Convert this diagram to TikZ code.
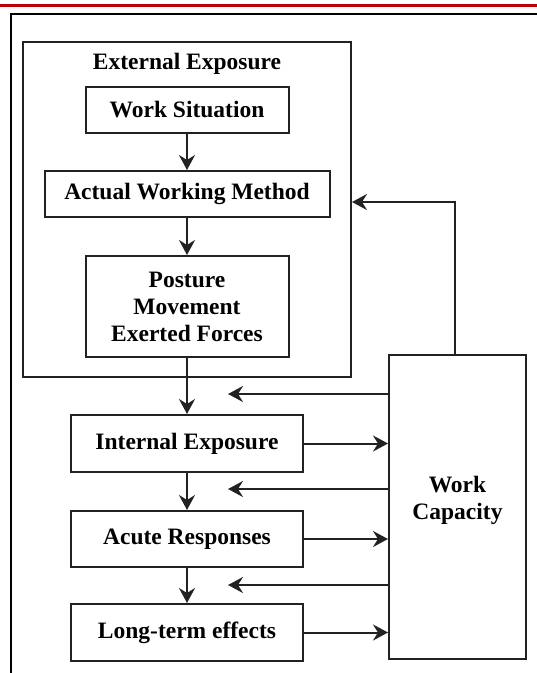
\documentclass[tikz,border=0pt]{standalone}
\usepackage{fontspec}
\setmainfont{Liberation Serif}
\usetikzlibrary{arrows.meta}
\definecolor{topred}{HTML}{C00000}
\definecolor{linegray}{HTML}{222222}
\tikzset{
  box/.style={draw=linegray, line width=2pt, fill=white, inner sep=0pt,
    font=\fontsize{23.5}{27}\selectfont\bfseries, align=center},
  title/.style={inner sep=0pt, font=\fontsize{23.5}{27}\selectfont\bfseries},
  arr/.style={draw=linegray, line width=2pt,
    -{Stealth[length=15pt,width=16pt,inset=5pt]}},
  conn/.style={draw=linegray, line width=2pt}
}
\begin{document}
\begin{tikzpicture}[x=1pt,y=-1pt]
\useasboundingbox (0,0) rectangle (537,673);
% header rule and frame
\fill[topred] (0,4) rectangle (537,7);
\draw[line width=2.2pt] (11,673) -- (11,14) -- (537,14);
% external exposure group
\node[box, minimum width=328pt, minimum height=335pt] (ext) at (187,209.5) {};
\node[title] (exttitle) at (187,64) {External Exposure};
\node[box, minimum width=203pt, minimum height=46pt] (ws) at (187,110) {Work Situation};
\node[box, minimum width=285pt, minimum height=46pt] (awm) at (187,194) {Actual Working Method};
\node[box, minimum width=203pt, minimum height=101pt] (pos) at (187,306.5) {Posture\\Movement\\Exerted Forces};
% lower chain
\node[box, minimum width=232pt, minimum height=57pt] (int) at (187,443.5) {Internal Exposure};
\node[box, minimum width=232pt, minimum height=56pt] (acu) at (187,539) {Acute Responses};
\node[box, minimum width=232pt, minimum height=57pt] (lte) at (187,632.5) {Long-term effects};
% work capacity
\node[box, minimum width=137pt, minimum height=304pt] (wc) at (457.5,507) {};
\node[title, align=center] (wctext) at (457.5,500) {Work\\Capacity};
% vertical flow
\draw[arr] (ws.south) -- (awm.north);
\draw[arr] (awm.south) -- (pos.north);
\draw[arr] (pos.south) -- (int.north);
\draw[arr] (int.south) -- (acu.north);
\draw[arr] (acu.south) -- (lte.north);
% to work capacity
\draw[arr] (int.east) -- (int.east -| wc.west);
\draw[arr] (acu.east) -- (acu.east -| wc.west);
\draw[arr] (lte.east) -- (lte.east -| wc.west);
% feedback from work capacity
\coordinate (f1) at (228,394);
\coordinate (f2) at (228,489);
\coordinate (f3) at (228,585);
\draw[arr] (f1 -| wc.west) -- (f1);
\draw[arr] (f2 -| wc.west) -- (f2);
\draw[arr] (f3 -| wc.west) -- (f3);
\coordinate (fb) at (455,202);
\draw[arr] (fb |- wc.north) -- (fb) -- (fb -| ext.east);
\end{tikzpicture}
\end{document}
